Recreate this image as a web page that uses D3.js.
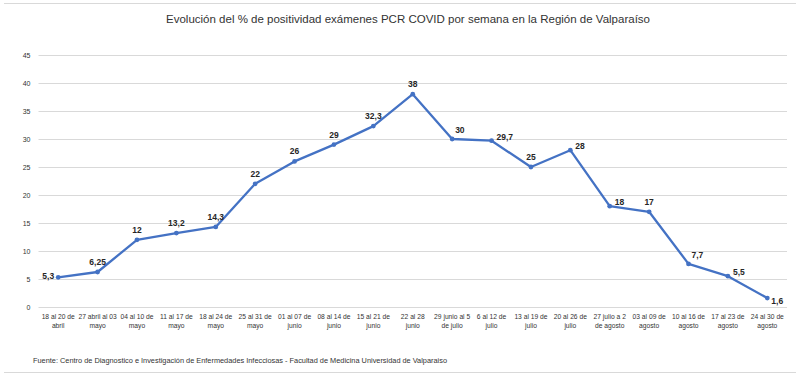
<!DOCTYPE html>
<html><head><meta charset="utf-8">
<script src="https://cdn.jsdelivr.net/npm/d3@7"></script>
<style>html,body{margin:0;padding:0;background:#fff;}svg{display:block;}</style>
</head><body>
<svg id="c" width="800" height="379"></svg>
<script>
const categories = [
  ["18 al 20 de","abril"],["27 abril al 03","mayo"],["04 al 10 de","mayo"],["11 al 17 de","mayo"],
  ["18 al 24 de","mayo"],["25 al 31 de","mayo"],["01 al 07 de","junio"],["08 al 14 de","junio"],
  ["15 al 21 de","junio"],["22 al 28","junio"],["29 junio al 5","de julio"],["6 al 12 de","julio"],
  ["13 al 19 de","julio"],["20 al 26 de","julio"],["27 julio a 2","de agosto"],["03 al 09 de","agosto"],
  ["10 al 16 de","agosto"],["17 al 23 de","agosto"],["24 al 30 de","agosto"]
];
const values = [5.3, 6.25, 12, 13.2, 14.3, 22, 26, 29, 32.3, 38, 30, 29.7, 25, 28, 18, 17, 7.7, 5.5, 1.6];
const valueLabels = ["5,3","6,25","12","13,2","14,3","22","26","29","32,3","38","30","29,7","25","28","18","17","7,7","5,5","1,6"];
const labelPos = ["l","t","t","t","t","t","t","t","t","t","tr","r","t","r","r","t","tr","r","br"];
const yTicks = [0,5,10,15,20,25,30,35,40,45];
const title = "Evolución del % de positividad exámenes PCR COVID por semana en la Región de Valparaíso";
const source = "Fuente: Centro de Diagnostico e Investigación de Enfermedades Infecciosas - Facultad de Medicina Universidad de Valparaiso";

(function(){
const svg = d3.select("#c");
const font = "'Liberation Sans', Arial, sans-serif";
const pL = 38.5, pR = 787, pT = 55, pB = 307;

svg.append("line").attr("x1",4).attr("x2",796).attr("y1",3.5).attr("y2",3.5).attr("stroke","#d9d9d9");
svg.append("line").attr("x1",4).attr("x2",796).attr("y1",372.5).attr("y2",372.5).attr("stroke","#d9d9d9");

svg.append("text").attr("x",408).attr("y",23).attr("text-anchor","middle")
  .attr("font-family",font).attr("font-size",10.5).attr("fill","#333")
  .attr("textLength",484).attr("lengthAdjust","spacingAndGlyphs").text(title);

const x = d3.scaleBand().domain(d3.range(categories.length)).range([pL,pR]);
const y = d3.scaleLinear().domain([0,45]).range([pB,pT]);

svg.append("g").selectAll("line").data(yTicks).join("line")
  .attr("x1",pL).attr("x2",pR)
  .attr("y1",d=>Math.round(y(d))+0.5).attr("y2",d=>Math.round(y(d))+0.5)
  .attr("stroke","#d9d9d9").attr("stroke-width",1);

const yAxis = d3.axisLeft(y).tickValues(yTicks).tickSize(0).tickPadding(8);
const ga = svg.append("g").attr("transform",`translate(${pL},0)`).call(yAxis);
ga.select(".domain").remove();
ga.selectAll("text").attr("font-family",font).attr("font-size",7).attr("fill","#333");

const cx = i => x(i) + x.bandwidth()/2;
const gx = svg.append("g");
categories.forEach((c,i)=>{
  const t = gx.append("text").attr("x",cx(i)).attr("y",319).attr("text-anchor","middle")
    .attr("font-family",font).attr("font-size",6.7).attr("fill","#333");
  t.append("tspan").attr("x",cx(i)).attr("dy",0).text(c[0]);
  t.append("tspan").attr("x",cx(i)).attr("dy",9).text(c[1]);
});

const line = d3.line().x((d,i)=>cx(i)).y(d=>y(d));
svg.append("path").datum(values).attr("d",line).attr("fill","none")
  .attr("stroke","#4472c4").attr("stroke-width",2.3).attr("stroke-linejoin","round");
svg.append("g").selectAll("circle").data(values).join("circle")
  .attr("cx",(d,i)=>cx(i)).attr("cy",d=>y(d)).attr("r",2.4).attr("fill","#4472c4");

const off = {l:[-4,2,"end"], t:[0,-7,"middle"], tr:[3,-6,"start"], r:[5,-1,"start"], br:[4,6,"start"]};
svg.append("g").selectAll("text").data(values).join("text")
  .attr("x",(d,i)=>cx(i)+off[labelPos[i]][0])
  .attr("y",(d,i)=>y(d)+off[labelPos[i]][1])
  .attr("text-anchor",(d,i)=>off[labelPos[i]][2])
  .attr("font-family",font).attr("font-size",8.5).attr("font-weight","bold").attr("fill","#262626")
  .text((d,i)=>valueLabels[i]);

svg.append("text").attr("x",33).attr("y",363).attr("font-family",font).attr("font-size",6.6)
  .attr("fill","#333").attr("textLength",414).attr("lengthAdjust","spacingAndGlyphs").text(source);
})();
</script>
</body></html>
